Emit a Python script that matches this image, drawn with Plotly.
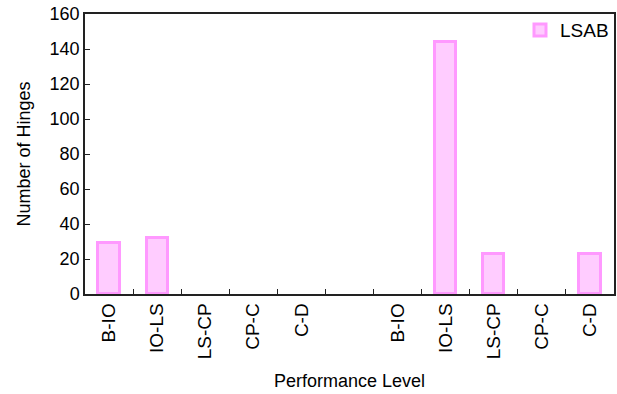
import plotly.graph_objects as go

categories = ["B-IO", "IO-LS", "LS-CP", "CP-C", "C-D", "", "B-IO", "IO-LS", "LS-CP", "CP-C", "C-D"]
lsab_values = [29, 32, None, None, None, None, None, 144, 23, None, 23]
y_ticks = [0, 20, 40, 60, 80, 100, 120, 140, 160]

positions = list(range(len(categories)))

fig = go.Figure()
fig.add_trace(go.Bar(
    x=positions,
    y=lsab_values,
    name="LSAB",
    width=0.44,
    marker=dict(color="#FFCCFF", line=dict(color="#FF99FF", width=3)),
    showlegend=True,
))

font_family = "Liberation Sans, Arial, sans-serif"

fig.update_layout(
    width=617, height=394,
    margin=dict(l=85, r=3, t=14, b=100),
    plot_bgcolor="white",
    paper_bgcolor="white",
    font=dict(family=font_family, size=18, color="black"),
    showlegend=True,
    legend=dict(x=1.0, y=1.01, xanchor="right", yanchor="top",
                bgcolor="rgba(0,0,0,0)", font=dict(size=19),
                itemwidth=30),
    bargap=0,
)

fig.update_xaxes(
    range=[-0.5, len(categories) - 0.5],
    tickmode="array",
    tickvals=positions,
    ticktext=categories,
    tickangle=-90,
    ticks="",
    automargin=False,
    showline=True, linecolor="#222", linewidth=1.5, mirror=True,
    showgrid=False, zeroline=False,
    minor=dict(tickmode="array", tickvals=[p + 0.5 for p in positions[:-1]],
               ticks="inside", ticklen=5, tickcolor="#222", showgrid=False),
    title=dict(text="Performance Level", standoff=16, font=dict(size=18)),
    tickfont=dict(size=19),
)

fig.update_yaxes(
    range=[0, 160],
    tickmode="array",
    tickvals=y_ticks,
    ticks="inside", ticklen=5, tickcolor="#222",
    automargin=False,
    showline=True, linecolor="#222", linewidth=1.5, mirror=True,
    showgrid=False, zeroline=False,
    title=dict(text="Number of Hinges", standoff=14, font=dict(size=18)),
    tickfont=dict(size=18),
)

fig.write_html("out.html", config={"displayModeBar": False},
               post_script="document.body.style.margin='0';document.body.style.overflow='hidden';")
